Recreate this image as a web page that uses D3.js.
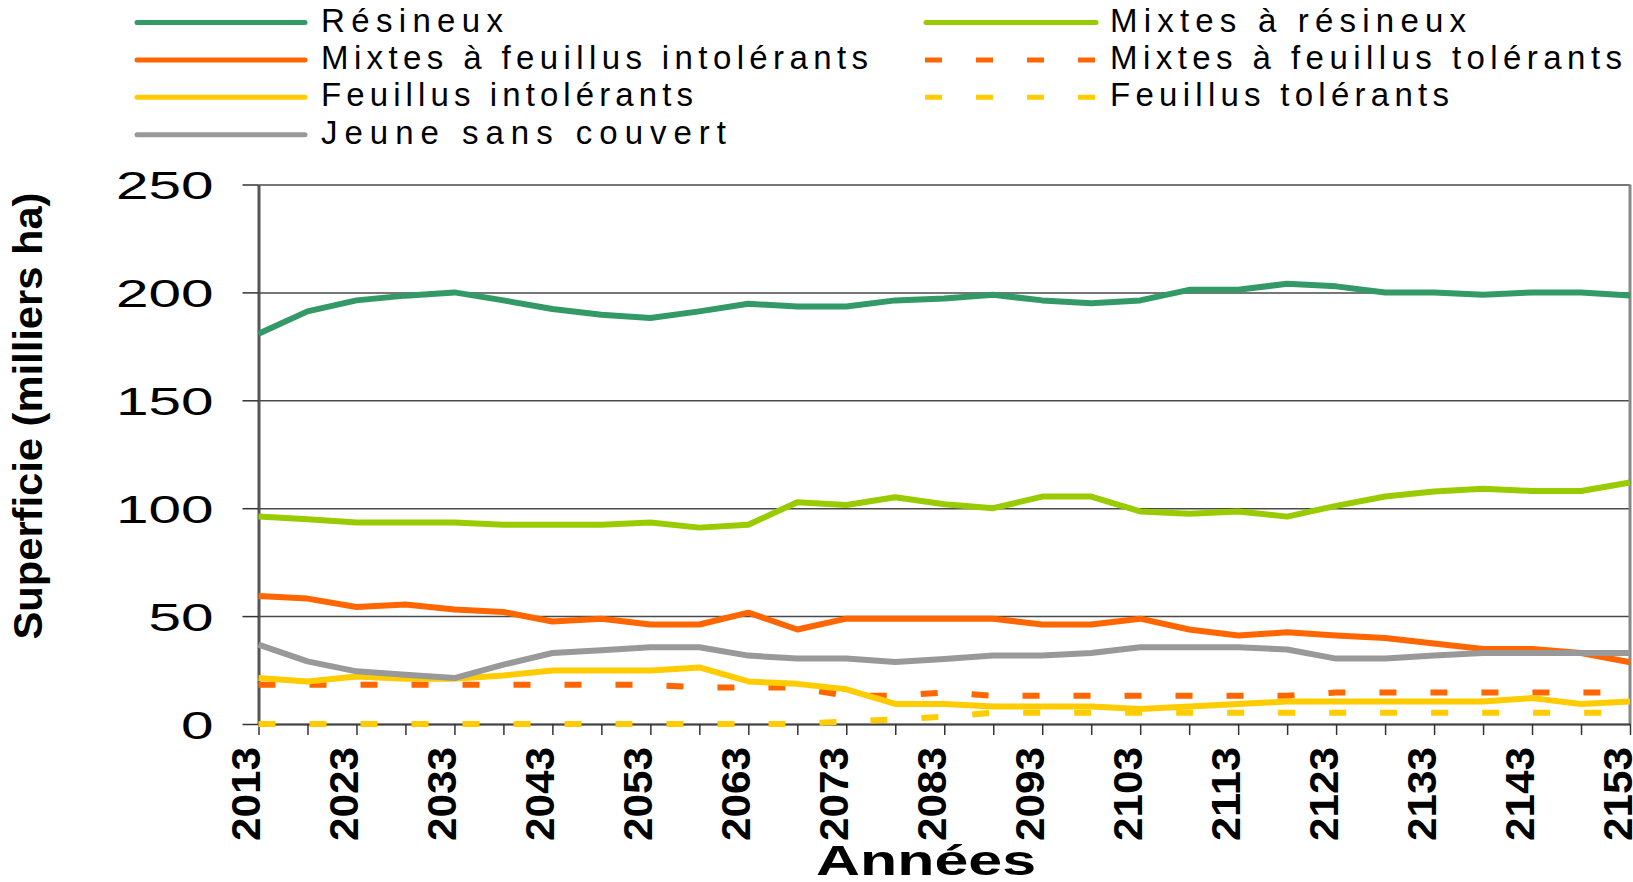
<!DOCTYPE html>
<meta charset="utf-8">
<style>
  body { margin: 0; background: #fff; }
  text { font-family: "Liberation Sans", Arial, sans-serif; fill: #000; }
</style>

<!-- Load d3.js -->
<script src="https://d3js.org/d3.v7.min.js"></script>
<div id="my_dataviz"></div>

<script>

// years on the x axis (one point every 5 years)
var years = [2013, 2018, 2023, 2028, 2033, 2038, 2043, 2048, 2053, 2058,
             2063, 2068, 2073, 2078, 2083, 2088, 2093, 2098, 2103, 2108,
             2113, 2118, 2123, 2128, 2133, 2138, 2143, 2148, 2153];
var xLabelYears = [2013, 2023, 2033, 2043, 2053, 2063, 2073, 2083,
                   2093, 2103, 2113, 2123, 2133, 2143, 2153];
var yTicks = [0, 50, 100, 150, 200, 250];

// superficie, milliers ha
var resineux = [180.8, 191.2, 196.3, 198.5, 200, 196.3, 192.3, 189.6, 188.1, 191.2,
                194.7, 193.5, 193.5, 196.3, 197.2, 198.9, 196.3, 195, 196.3, 201.2,
                201.2, 204, 202.8, 200, 200, 198.9, 200, 200, 198.6];
var mixtesResineux = [96.1, 94.9, 93.4, 93.4, 93.4, 92.3, 92.3, 92.3, 93.4, 91,
                      92.3, 102.8, 101.5, 105.1, 101.8, 100, 105.4, 105.4, 98.5, 97.4,
                      98.5, 96.1, 101.1, 105.4, 107.7, 109, 108, 108, 111.9];
var mixtesFeuIntol = [59.3, 58.1, 54.2, 55.4, 53.1, 51.9, 47.5, 48.8, 46.1, 46.1,
                      51.6, 43.8, 48.8, 48.8, 48.8, 48.8, 46.1, 46.1, 48.8, 43.8,
                      41, 42.5, 41, 39.9, 37.3, 34.8, 34.8, 32.9, 28.6];
var mixtesFeuTol = [18.2, 18.2, 18.2, 18.2, 18.2, 18.2, 18.2, 18.2, 18.2, 16.9,
                    16.9, 16.9, 13.1, 13.1, 14.6, 13.1, 13.1, 13.1, 13.1, 13.1,
                    13.1, 13.1, 14.6, 14.6, 14.6, 14.6, 14.6, 14.6, 14.6];
var feuIntol = [21.3, 19.7, 22, 21, 21, 22.5, 24.8, 24.8, 24.8, 26.2,
                19.7, 18.6, 16.1, 9.3, 9.3, 8.1, 8.1, 8.1, 7, 8.1,
                9.3, 10.4, 10.4, 10.4, 10.4, 10.4, 12, 9.3, 10.4];
var feuTol = [0, 0, 0, 0, 0, 0, 0, 0, 0, 0,
              0, 0, 1.2, 2.1, 3.4, 5.2, 5.2, 5.2, 5.2, 5.2,
              5.2, 5.2, 5.2, 5.2, 5.2, 5.2, 5.2, 5.2, 5.2];
var jeune = [36.8, 29, 24.4, 22.8, 21.3, 27.5, 32.9, 34.2, 35.6, 35.6,
             31.7, 30.3, 30.3, 28.7, 30.1, 31.7, 31.7, 32.9, 35.6, 35.6,
             35.6, 34.5, 30.3, 30.3, 31.7, 32.9, 32.9, 32.9, 32.9];

var series = [
  {name: "Résineux", values: resineux, color: "#339966", dashed: false},
  {name: "Mixtes à résineux", values: mixtesResineux, color: "#99cc00", dashed: false},
  {name: "Mixtes à feuillus intolérants", values: mixtesFeuIntol, color: "#ff6600", dashed: false},
  {name: "Mixtes à feuillus tolérants", values: mixtesFeuTol, color: "#ff6600", dashed: true},
  {name: "Feuillus intolérants", values: feuIntol, color: "#ffcc00", dashed: false},
  {name: "Feuillus tolérants", values: feuTol, color: "#ffcc00", dashed: true},
  {name: "Jeune sans couvert", values: jeune, color: "#999999", dashed: false}
];

// legend placement (column, row, text width) in the same order as series
var legendSlots = [
  {col: 0, row: 0, w: 182}, {col: 1, row: 0, w: 356},
  {col: 0, row: 1, w: 547}, {col: 1, row: 1, w: 512},
  {col: 0, row: 2, w: 372}, {col: 1, row: 2, w: 339},
  {col: 0, row: 3, w: 405}
];

// set the dimensions and margins of the graph
var margin = {top: 184.5, right: 3, bottom: 158, left: 258.5},
    width = 1633 - margin.left - margin.right,
    height = 882 - margin.top - margin.bottom;

var svgRoot = d3.select("#my_dataviz")
  .append("svg")
    .attr("width", 1633)
    .attr("height", 882);

var svg = svgRoot.append("g")
    .attr("transform", "translate(" + margin.left + "," + margin.top + ")");

var x = d3.scaleLinear()
    .domain([years[0], years[years.length - 1]])
    .range([0, width]);

var y = d3.scaleLinear()
    .domain([0, 250])
    .range([height, 0]);

// gridlines
svg.append("g")
    .call(d3.axisLeft(y).tickValues(yTicks).tickSize(-width).tickFormat(""))
    .call(function(g) { g.select(".domain").remove(); })
    .selectAll("line")
      .attr("stroke", "#4a4a4a")
      .attr("stroke-width", 1.5);

// right border of the plot area
svg.append("line")
    .attr("x1", width).attr("x2", width)
    .attr("y1", 0).attr("y2", height)
    .attr("stroke", "#888")
    .attr("stroke-width", 3);

// x axis
var xAxis = svg.append("g")
    .attr("transform", "translate(0," + height + ")")
    .call(d3.axisBottom(x)
      .tickValues(years)
      .tickSize(11)
      .tickSizeOuter(0)
      .tickFormat(function(d) { return xLabelYears.indexOf(d) >= 0 ? d : ""; }));

xAxis.select(".domain").attr("stroke", "#444").attr("stroke-width", 2);
xAxis.selectAll(".tick line").attr("stroke", "#333").attr("stroke-width", 1.5);
xAxis.selectAll(".tick text")
    .attr("x", null).attr("y", null).attr("dy", null)
    .attr("text-anchor", "end")
    .attr("transform", "translate(1,23) rotate(-90)")
    .attr("textLength", 94)
    .attr("lengthAdjust", "spacingAndGlyphs")
    .style("font-size", "40px")
    .style("font-weight", "bold")
    .style("font-family", "'Liberation Sans', Arial, sans-serif")
    .attr("fill", "#000");

// y axis
var yAxis = svg.append("g")
    .call(d3.axisLeft(y).tickValues(yTicks).tickSize(16).tickSizeOuter(0));

yAxis.select(".domain").attr("stroke", "#555").attr("stroke-width", 3);
yAxis.selectAll(".tick line").attr("stroke", "#333").attr("stroke-width", 1.5);
yAxis.selectAll(".tick text")
    .attr("x", null).attr("dy", "0.36em")
    .attr("transform", "translate(-45,0) scale(1.5,1)")
    .style("font-size", "39px")
    .style("font-family", "'Liberation Sans', Arial, sans-serif")
    .attr("fill", "#000");

// lines
var line = d3.line()
    .x(function(d, i) { return x(years[i]); })
    .y(function(d) { return y(d); });

svg.selectAll(".serie")
  .data(series)
  .enter()
  .append("path")
    .attr("class", "serie")
    .attr("d", function(d) { return line(d.values); })
    .attr("fill", "none")
    .attr("stroke", function(d) { return d.color; })
    .attr("stroke-width", 6)
    .attr("stroke-linejoin", "round")
    .attr("stroke-dasharray", function(d) { return d.dashed ? "17,34" : null; });

// axis titles
svgRoot.append("text")
    .attr("transform", "translate(42,416) rotate(-90)")
    .attr("text-anchor", "middle")
    .attr("textLength", 447)
    .attr("lengthAdjust", "spacingAndGlyphs")
    .style("font-size", "40px")
    .style("font-weight", "bold")
    .text("Superficie (milliers ha)");

svgRoot.append("text")
    .attr("x", 926)
    .attr("y", 875)
    .attr("text-anchor", "middle")
    .attr("textLength", 220)
    .attr("lengthAdjust", "spacingAndGlyphs")
    .style("font-size", "42px")
    .style("font-weight", "bold")
    .text("Années");

// legend
var legendCols = [{x1: 136, x2: 305, tx: 321}, {x1: 925, x2: 1096, tx: 1110}];

var legend = svgRoot.selectAll(".legend")
  .data(series)
  .enter()
  .append("g")
    .attr("class", "legend")
    .attr("transform", function(d, i) { return "translate(0," + (22.5 + legendSlots[i].row * 37.4) + ")"; });

legend.append("line")
    .attr("x1", function(d, i) { var c = legendCols[legendSlots[i].col]; return d.dashed ? c.x1 : c.x1 + 1; })
    .attr("x2", function(d, i) { return legendCols[legendSlots[i].col].x2; })
    .attr("stroke", function(d) { return d.color; })
    .attr("stroke-width", 5)
    .attr("stroke-linecap", function(d) { return d.dashed ? "butt" : "round"; })
    .attr("stroke-dasharray", function(d) { return d.dashed ? "17,34" : null; });

legend.append("text")
    .attr("x", function(d, i) { return legendCols[legendSlots[i].col].tx; })
    .attr("y", 9)
    .attr("textLength", function(d, i) { return legendSlots[i].w; })
    .attr("lengthAdjust", "spacing")
    .style("font-size", "33px")
    .text(function(d) { return d.name; });

</script>
